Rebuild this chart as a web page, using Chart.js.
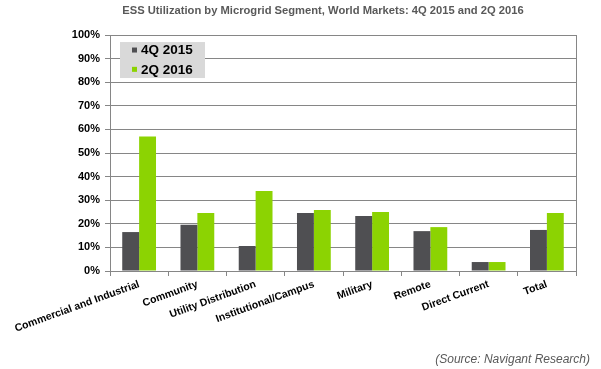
<!DOCTYPE html>
<html>
<head>
<meta charset="utf-8">
<script src="https://cdn.jsdelivr.net/npm/chart.js@4/dist/chart.umd.min.js"></script>
<style>
  html, body { margin: 0; padding: 0; background: #ffffff; }
  #wrap { width: 601px; height: 369px; }
</style>
</head>
<body>
<div id="wrap"><canvas id="c" width="601" height="369"></canvas></div>
<script>
const titleText = 'ESS Utilization by Microgrid Segment, World Markets: 4Q 2015 and 2Q 2016';
const sourceText = '(Source: Navigant Research)';
const categories = ['Commercial and Industrial', 'Community', 'Utility Distribution', 'Institutional/Campus', 'Military', 'Remote', 'Direct Current', 'Total'];
const seriesNames = ['4Q 2015', '2Q 2016'];
const values4Q2015 = [16.5, 19.6, 10.6, 24.6, 23.3, 16.9, 3.8, 17.4];
const values2Q2016 = [57.0, 24.6, 33.9, 25.8, 25.0, 18.6, 3.8, 24.6];
const yTicks = [0, 10, 20, 30, 40, 50, 60, 70, 80, 90, 100];

const FONT = '"Liberation Sans", Arial, sans-serif';
const GRID = '#868686';

const legendBoxPlugin = {
  id: 'legendBox',
  afterDatasetsDraw(chart) {
    const ctx = chart.ctx;
    const a = chart.chartArea;
    const x0 = a.left + 10, y0 = a.top + 7;
    ctx.save();
    ctx.fillStyle = '#D9D9D9';
    ctx.fillRect(x0, y0, 85, 36);
    ctx.font = 'bold 13.5px ' + FONT;
    ctx.textBaseline = 'middle';
    chart.data.datasets.forEach((ds, i) => {
      const cy = y0 + 8 + i * 19.3;
      ctx.fillStyle = ds.backgroundColor;
      ctx.fillRect(x0 + 12, cy - 2.5, 5, 5);
      ctx.fillStyle = '#000000';
      ctx.fillText(ds.label, x0 + 21, cy + 0.5);
    });
    ctx.restore();
  },
  afterDraw(chart) {
    const ctx = chart.ctx;
    const a = chart.chartArea;
    ctx.save();
    ctx.strokeStyle = GRID;
    ctx.lineWidth = 1;
    ctx.beginPath();
    ctx.moveTo(Math.round(a.right) + 0.5, a.top);
    ctx.lineTo(Math.round(a.right) + 0.5, a.bottom + 5);
    ctx.stroke();
    ctx.font = 'italic 12px ' + FONT;
    ctx.fillStyle = '#595959';
    ctx.textAlign = 'right';
    ctx.textBaseline = 'middle';
    ctx.fillText(sourceText, 590, 360);
    ctx.restore();
  }
};

new Chart(document.getElementById('c'), {
  type: 'bar',
  data: {
    labels: categories,
    datasets: [
      { label: seriesNames[0], data: values4Q2015, backgroundColor: '#4F4F52', borderWidth: 0 },
      { label: seriesNames[1], data: values2Q2016, backgroundColor: '#8CD302', borderWidth: 0 }
    ]
  },
  options: {
    responsive: false,
    animation: false,
    devicePixelRatio: 1,
    layout: { padding: { left: 70, right: 25, top: 0, bottom: 0 } },
    datasets: { bar: { categoryPercentage: 0.58, barPercentage: 1.0 } },
    plugins: {
      legend: { display: false },
      tooltip: { enabled: false },
      title: {
        display: true,
        text: titleText,
        color: '#595959',
        font: { family: FONT, size: 11.2, weight: 'bold' },
        padding: { top: 4, bottom: 17.6 }
      }
    },
    scales: {
      x: {
        offset: true,
        grid: { display: true, offset: true, drawOnChartArea: false, drawTicks: true, tickLength: 5, color: GRID },
        border: { display: true, color: GRID },
        ticks: {
          color: '#000000',
          font: { family: FONT, size: 10.5, weight: 'bold' },
          maxRotation: 20, minRotation: 20, autoSkip: false, padding: 2
        },
        afterFit(scale) { scale.height = 98; }
      },
      y: {
        min: 0, max: 100,
        afterBuildTicks(scale) { scale.ticks = yTicks.map(v => ({ value: v })); },
        grid: { color: GRID, tickLength: 5, drawTicks: true },
        border: { display: true, color: GRID },
        ticks: {
          color: '#000000',
          font: { family: FONT, size: 11, weight: 'bold' },
          padding: 5,
          callback: v => v + '%'
        },
        afterFit(scale) { scale.width = 40; }
      }
    }
  },
  plugins: [legendBoxPlugin]
});
</script>
</body>
</html>
